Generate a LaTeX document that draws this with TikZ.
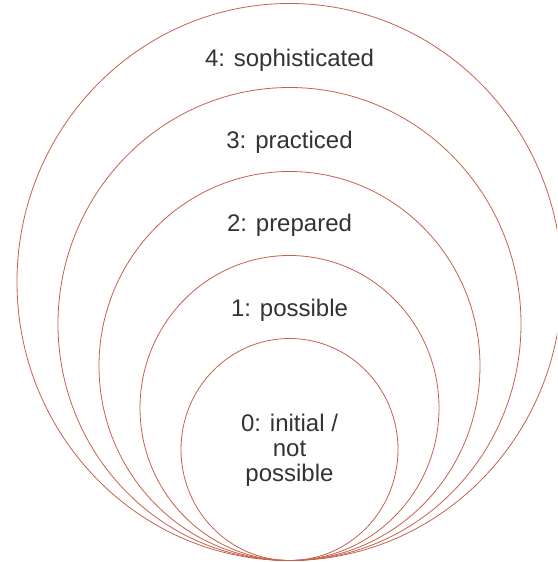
\documentclass[tikz,border=0pt]{standalone}
\usepackage{fontspec}
\setmainfont{Liberation Sans}
\usetikzlibrary{calc}
\begin{document}
\begin{tikzpicture}[x=1pt,y=1pt,
  ring/.style={draw=ringred, line width=0.8pt},
  level/.style={text=labelgray, font=\fontsize{24}{25}\selectfont, align=center, inner sep=0pt}]
\definecolor{ringred}{HTML}{C8604E}
\definecolor{labelgray}{HTML}{333333}
\useasboundingbox (0,0) rectangle (557,562);
\clip (0,0) rectangle (557,562);
\fill[white] (0,0) rectangle (557,562);
% nested rings, all touching at the bottom point
\coordinate (base) at (289.5,1.5);
\foreach \rx/\ry in {272.5/278.5, 231.5/236.5, 190.5/194.5, 149.5/152.5, 108.5/111}
  \draw[ring] ($(base)+(0,\ry)$) ellipse [x radius=\rx, y radius=\ry];
% level labels
\node[level] (l4) at (289.5,501.5) {4: sophisticated};
\node[level] (l3) at (289.5,419.5) {3: practiced};
\node[level] (l2) at (289.5,336.5) {2: prepared};
\node[level] (l1) at (289.5,251.5) {1: possible};
\node[level] (l0) at (289.5,111.5) {0: initial /\\not\\possible};
\end{tikzpicture}
\end{document}
